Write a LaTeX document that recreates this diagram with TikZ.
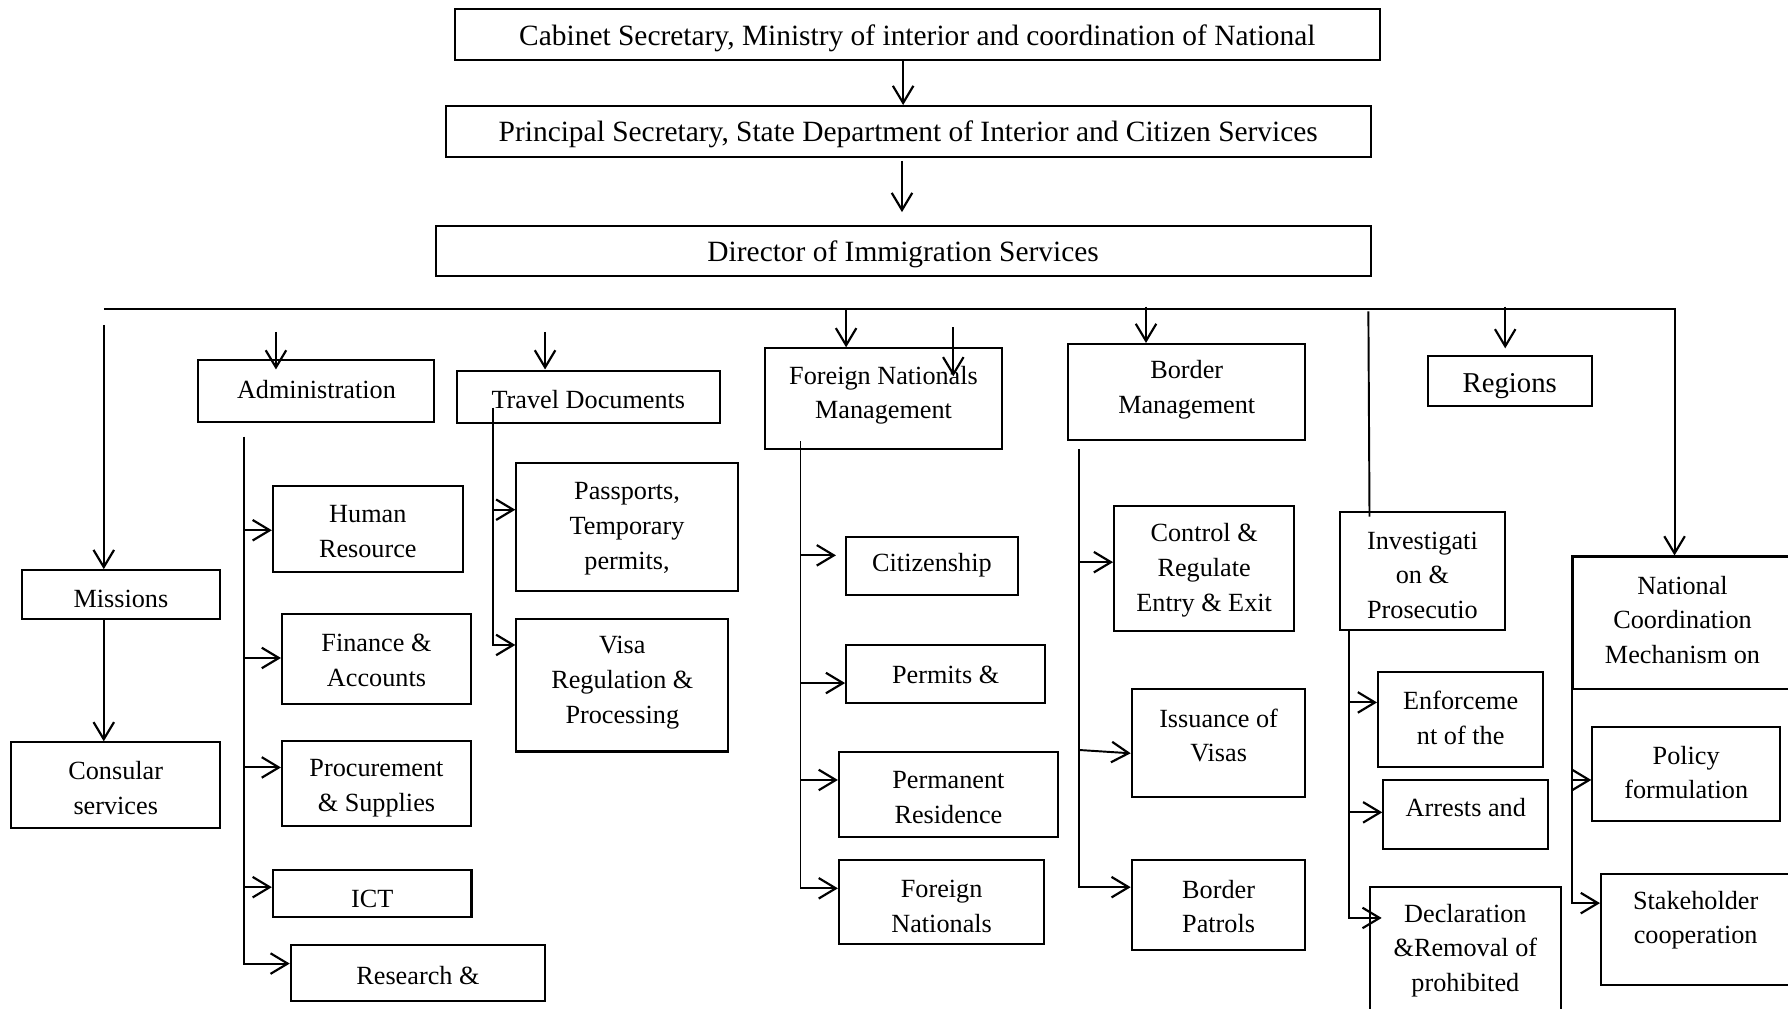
\documentclass[tikz,border=0pt]{standalone}
\usepackage{fontspec}
\setmainfont{Liberation Serif}
\usetikzlibrary{arrows.meta,fit,calc}
\newcommand\bx[7]{%
  \node[box, fit={(#2,#3) (#4,#5)}] (#1) {};
  \node[txt] (#1-t) at ({(#2+#4)/2},{#6+1.5}) {#7};
}
\begin{document}
\begin{tikzpicture}[x=0.5pt,y=-0.5pt,
  box/.style={draw, line width=0.9pt, inner sep=0pt},
  txt/.style={align=center, inner sep=0pt, font=\fontsize{11.5}{15.2}\selectfont},
  bigtxt/.style={txt, font=\fontsize{12.9}{15.2}\selectfont},
  conn/.style={line width=0.85pt},
  arw/.style={conn, -{Straight Barb[length=7.5pt,width=9pt,line width=0.95pt]}},
]
\useasboundingbox (0,0) rectangle (1568,884);
\clip (0,0) rectangle (1568,884);

% top chain
\node[box, fit={(399,8) (1210,53)}] (cab) {};
\node[bigtxt] (cab-t) at (804.5,34) {Cabinet Secretary, Ministry of interior and coordination of National};
\node[box, fit={(391,93) (1202,138)}] (ps) {};
\node[bigtxt] (ps-t) at (796.5,118) {Principal Secretary, State Department of Interior and Citizen Services};
\node[box, fit={(382,198) (1202,242)}] (dir) {};
\node[bigtxt] (dir-t) at (792,223) {Director of Immigration Services};

% first level
\bx{mis}{19}{500}{193}{543}{524}{Missions}
\bx{cons}{10}{651}{193}{726}{689.5}{Consular\\services}
\bx{adm}{174}{316}{381}{370}{340}{Administration}
\bx{td}{401}{325}{631}{371}{349}{Travel Documents}
\bx{fnm}{671}{305.5}{878.6}{394}{345}{Foreign Nationals\\Management}
\bx{bm}{936.7}{301.7}{1144.7}{386}{340}{Border\\Management}
\node[box, fit={(1252,312) (1396.5,356)}] (reg) {};
\node[txt, font=\fontsize{12.6}{15}\selectfont] (reg-t) at (1324,338.5) {Regions};
\bx{inv}{1175.2}{448.7}{1319.6}{552.5}{503}{Investigati\\on \&\\Prosecutio}
\bx{ncm}{1379}{488}{1572}{604.5}{542}{National\\Coordination\\Mechanism on}

% administration
\bx{hr}{239.3}{426}{405.8}{501.6}{464.5}{Human\\Resource}
\bx{fin}{247.3}{538.8}{413}{617.4}{577.5}{Finance \&\\Accounts}
\bx{proc}{247.3}{650}{413}{724}{689.5}{Procurement\\\& Supplies}
\bx{ict}{239.3}{763}{413.5}{804}{787}{ICT}
\bx{res}{255}{829}{478}{877.6}{854}{Research \&}

% travel documents
\bx{pass}{452.8}{406.3}{647}{518}{462}{Passports,\\Temporary\\permits,}
\bx{visa}{452.8}{543}{638.7}{659}{597}{Visa\\Regulation \&\\Processing}

% foreign nationals management
\bx{cit}{742}{470.6}{892.5}{521.5}{494}{Citizenship}
\bx{perm}{742}{565.6}{916.5}{616.8}{590}{Permits \&}
\bx{pr}{735.7}{659.5}{927.7}{734}{698}{Permanent\\Residence}
\bx{fn}{735.7}{754.5}{915.8}{827.6}{793.5}{Foreign\\Nationals}

% border management
\bx{ctrl}{977}{443.5}{1135}{553.4}{498.5}{Control \&\\Regulate\\Entry \& Exit}
\bx{iss}{992.5}{604.5}{1144.8}{699.2}{643.5}{Issuance of\\Visas}
\bx{bp}{992.5}{754.5}{1144.8}{832.8}{793.5}{Border\\Patrols}

% investigation
\bx{enf}{1208.5}{589.6}{1353.4}{672.6}{628}{Enforceme\\nt of the}
\bx{arst}{1213.1}{684}{1357.8}{744.8}{707}{Arrests and}
\bx{decl}{1201.4}{778.2}{1368.7}{900}{832}{Declaration\\\&Removal of\\prohibited}

% national coordination
\bx{pol}{1396.4}{637.2}{1561}{719.7}{676}{Policy\\formulation}
\bx{stk}{1404}{766.5}{1570}{863.8}{805.5}{Stakeholder\\cooperation}

% ---- connectors ----
\draw[arw] (cab.south -| 792,0) -- (ps.north -| 792,0);
\coordinate (p0) at (791,141);
\coordinate (p1) at (791,186);
\draw[arw] (p0) -- (p1);

\coordinate (busL) at (91,271);
\coordinate (busR) at (1468.5,271);
\draw[arw] (busL) -- (busR) -- (busR |- ncm.north);

\coordinate (m0) at (91,285);
\draw[arw] (m0) -- (m0 |- mis.north);
\draw[arw] (mis.south -| m0) -- (cons.north -| m0);

\coordinate (ad0) at (242,291);
\coordinate (ad1) at (242,324);
\draw[arw] (ad0) -- (ad1);
\coordinate (td0) at (478,291);
\coordinate (td1) at (478,324);
\draw[arw] (td0) -- (td1);
\coordinate (f0) at (742,271);
\draw[arw] (f0) -- (f0 |- fnm.north);
\coordinate (f2a) at (836,287);
\coordinate (f2b) at (836,330);
\draw[arw] (f2a) -- (f2b);
\coordinate (b0) at (1005,269);
\draw[arw] (b0) -- (b0 |- bm.north);
\coordinate (i0) at (1200,273);
\coordinate (i1) at (1201,453);
\draw[conn] (i0) -- (i1);
\coordinate (r0) at (1320,269);
\coordinate (r1) at (1320,305.5);
\draw[arw] (r0) -- (r1);

% administration spine
\coordinate (as) at (214,383);
\draw[arw] (as) |- (res.west |- 0,845);
\draw[arw] (as |- 0,465) -- (hr.west |- 0,465);
\draw[arw] (as |- 0,577) -- (fin.west |- 0,577);
\draw[arw] (as |- 0,673) -- (proc.west |- 0,673);
\draw[arw] (as |- 0,778) -- (ict.west |- 0,778);

% travel documents spine
\coordinate (ts) at (432.7,357.5);
\draw[arw] (ts) |- (visa.west |- 0,565.6);
\draw[arw] (ts |- 0,447) -- (pass.west |- 0,447);

% foreign nationals spine
\coordinate (fs) at (702,387);
\draw[arw] (fs) |- (fn.west |- 0,779);
\draw[arw, shorten >=4pt] (fs |- 0,487) -- (cit.west |- 0,487);
\draw[arw] (fs |- 0,599) -- (perm.west |- 0,599);
\draw[arw] (fs |- 0,684) -- (pr.west |- 0,684);

% border management spine
\coordinate (bs) at (946.3,394);
\draw[arw] (bs) |- (bp.west |- 0,778);
\draw[arw] (bs |- 0,493) -- (ctrl.west |- 0,493);
\draw[arw] (bs |- 0,657.7) -- (iss.west |- 0,660.6);

% investigation spine
\coordinate (is) at (1183.3,552.5);
\draw[arw, shorten >=-5.6pt] (is) |- (decl.west |- 0,805);
\draw[arw] (is |- 0,616) -- (enf.west |- 0,616);
\draw[arw] (is |- 0,712.4) -- (arst.west |- 0,712.4);

% national coordination spine
\coordinate (ns) at (1378.3,604.5);
\coordinate (nsR) at (1575,604.5);
\draw[conn] (ns) -- (nsR);
\draw[arw] (ns) |- (stk.west |- 0,792);
\draw[arw] (ns |- 0,684) -- (pol.west |- 0,684);
\end{tikzpicture}
\end{document}
